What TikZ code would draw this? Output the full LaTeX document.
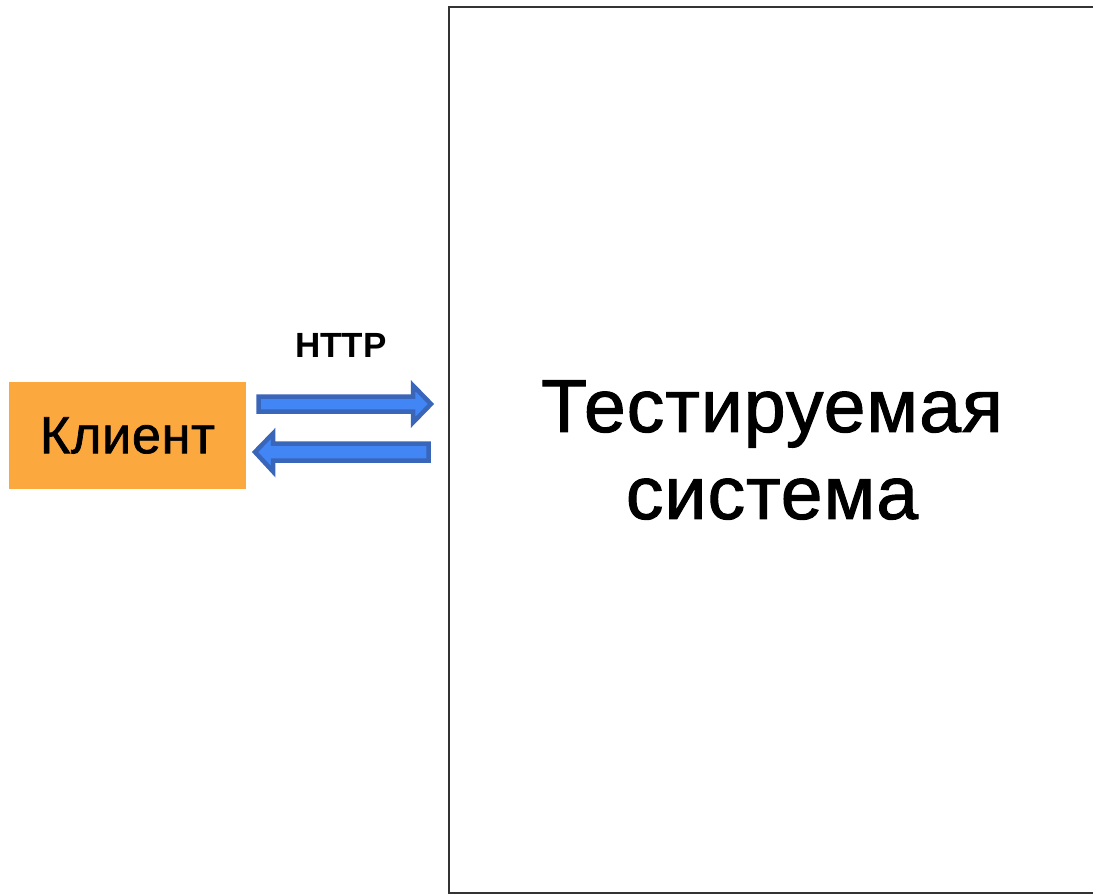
\documentclass[tikz,border=0pt]{standalone}
\usepackage{fontspec}
\setmainfont{Liberation Sans}
\newfontfamily\medfont[FakeBold=1.4,LetterSpace=1.5]{Liberation Sans}
\definecolor{clientorange}{HTML}{FBA83F}
\definecolor{arrowfill}{HTML}{4285F4}
\definecolor{arrowedge}{HTML}{3A66BA}
\definecolor{boxedge}{HTML}{333333}
\tikzset{
  blockarrow/.style={fill=arrowfill, draw=arrowedge, line width=4.5pt, line join=miter},
  clientbox/.style={fill=clientorange, draw=none, minimum width=237pt, minimum height=107pt, inner sep=0pt, font=\medfont\fontsize{52}{60}\selectfont},
}
\begin{document}
\begin{tikzpicture}[x=1pt,y=-1pt]
\useasboundingbox (0,0) rectangle (1093,894);
% system under test box
\draw[boxedge, line width=2pt] (1110,6.5) -- (449,6.5) -- (449,893) -- (1110,893);
\node[inner sep=0pt, align=center, font=\medfont\fontsize{75}{87}\selectfont] (sut) at (772,450) {Тестируемая\\система};
% client
\node[clientbox] (client) at (127.5,435.5) {Клиент};
% HTTP label
\node[inner sep=0pt, font=\bfseries\fontsize{35}{40}\selectfont] (http) at (341,345) {HTTP};
% request arrow
\coordinate (reqstart) at (258.5,404);
\coordinate (reqtip) at (431,404);
\draw[blockarrow] (258.5,396.5) -- (413,396.5) -- (413,385.5) -- (reqtip) -- (413,422.5) -- (413,411.5) -- (258.5,411.5) -- cycle;
% response arrow
\coordinate (resptip) at (255,452);
\draw[blockarrow] (428.5,443.5) -- (273,443.5) -- (273,433.5) -- (resptip) -- (273,471.5) -- (273,460.5) -- (428.5,460.5) -- cycle;
\end{tikzpicture}
\end{document}
